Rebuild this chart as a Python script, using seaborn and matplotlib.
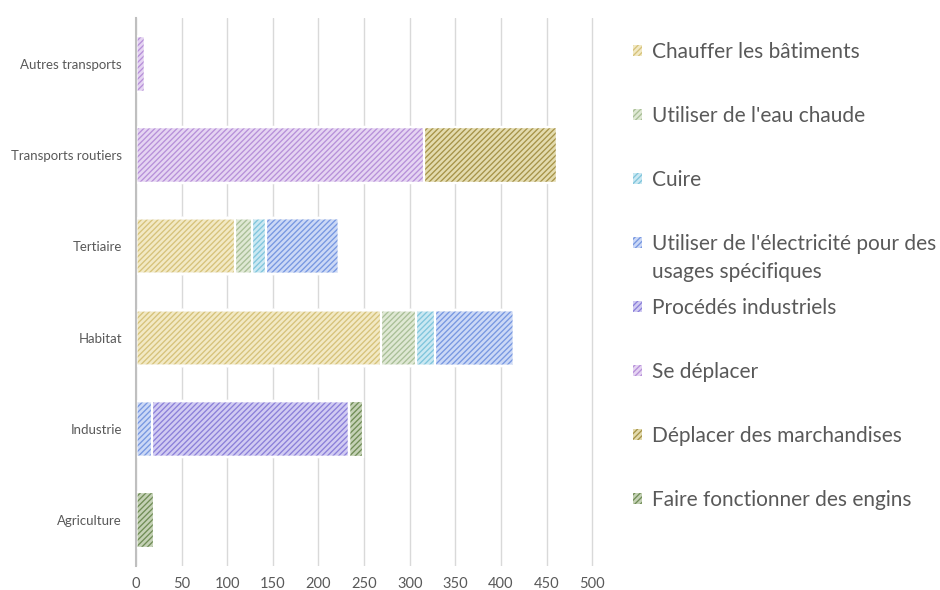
import matplotlib
matplotlib.use("Agg")
import matplotlib.pyplot as plt
from matplotlib.patches import Patch
import seaborn as sns
import numpy as np

# Données
categories = ["Autres transports", "Transports routiers", "Tertiaire",
              "Habitat", "Industrie", "Agriculture"]
series = ["Chauffer les bâtiments", "Utiliser de l'eau chaude", "Cuire",
          "Utiliser de l'électricité pour des usages spécifiques",
          "Procédés industriels", "Se déplacer",
          "Déplacer des marchandises", "Faire fonctionner des engins"]
chauffer = [0, 0, 109, 269, 0, 0]
eau_chaude = [0, 0, 18, 38, 0, 0]
cuire = [0, 0, 15, 21, 0, 0]
electricite = [0, 0, 80, 86, 17, 0]
procedes = [0, 0, 0, 0, 217, 0]
deplacer = [10, 316, 0, 0, 0, 0]
marchandises = [0, 145, 0, 0, 0, 0]
engins = [0, 0, 0, 0, 15, 20]
xticks = [0, 50, 100, 150, 200, 250, 300, 350, 400, 450, 500]

# couleurs: (fond, hachure)
fills = ["#f2e9c4", "#dfe8d4", "#cae8f2", "#cbd8f6", "#d1cbf2", "#e5d4f2", "#e3dbae", "#c4d1b5"]
hatch_cols = ["#d6c27a", "#a9bf97", "#80c5dc", "#7797e1", "#8b80d9", "#b790d9", "#a69348", "#708d56"]

sns.set_theme(style="white")
plt.rcParams["font.family"] = ["Lato", "DejaVu Sans"]
plt.rcParams["hatch.linewidth"] = 0.95
text_col = "#595959"

values = np.array([chauffer, eau_chaude, cuire, electricite,
                   procedes, deplacer, marchandises, engins], dtype=float)
cum = np.cumsum(values, axis=0)

fig = plt.figure(figsize=(9.4, 5.9), dpi=100)
ax = fig.add_axes([136 / 940, 24 / 590, 458 / 940, 548 / 590])

hatch = "//////"
bar_w = 0.61
# empilement: on dessine les cumuls du plus grand au plus petit
for i in reversed(range(len(series))):
    n0 = len(ax.patches)
    sns.barplot(x=cum[i], y=categories, orient="h", color=fills[i],
                width=bar_w, errorbar=None, ax=ax, zorder=2)
    for p in ax.patches[n0:]:
        p.set_facecolor(fills[i])
        p.set_hatch(hatch)
        p.set_edgecolor(hatch_cols[i])
        p.set_linewidth(0)
    n1 = len(ax.patches)
    sns.barplot(x=cum[i], y=categories, orient="h", color="white",
                width=bar_w, errorbar=None, ax=ax, zorder=3)
    for p in ax.patches[n1:]:
        p.set_facecolor("none")
        p.set_edgecolor("white")
        p.set_linewidth(1.6)

ax.set_xlim(0, 502)
ax.set_xticks(xticks)
ax.grid(axis="x", color="#d9d9d9", linewidth=1)
ax.set_axisbelow(True)
for s in ["top", "right", "bottom"]:
    ax.spines[s].set_visible(False)
ax.spines["left"].set_color("#bfbfbf")
ax.spines["left"].set_linewidth(1.5)
ax.spines["left"].set_zorder(5)
ax.tick_params(axis="both", length=0, colors=text_col)
ax.tick_params(axis="x", labelsize=10.5, pad=8)
ax.tick_params(axis="y", labelsize=9.5, pad=10)
ax.set_xlabel("")
ax.set_ylabel("")

# légende
handles = [Patch(facecolor=fills[i], edgecolor=hatch_cols[i], hatch="//////", linewidth=0)
           for i in range(len(series))]
labels = list(series)
labels[3] = "Utiliser de l'électricité pour des"
leg = fig.legend(handles, labels, loc="upper left", bbox_to_anchor=(633 / 940, 1 - 42 / 590),
                 frameon=False, fontsize=15, handlelength=0.45, handleheight=0.45,
                 handletextpad=0.45, labelspacing=2.11, borderpad=0, borderaxespad=0)
for t in leg.get_texts():
    t.set_color(text_col)

fig.canvas.draw()
t3 = leg.get_texts()[3]
bb = t3.get_window_extent()
x0, y0 = fig.transFigure.inverted().transform((bb.x0, bb.y0))
fig.text(x0, y0 - 28 / 590, "usages spécifiques", fontsize=15, color=text_col,
         ha="left", va="bottom")

fig.savefig("out.png", dpi=100)
